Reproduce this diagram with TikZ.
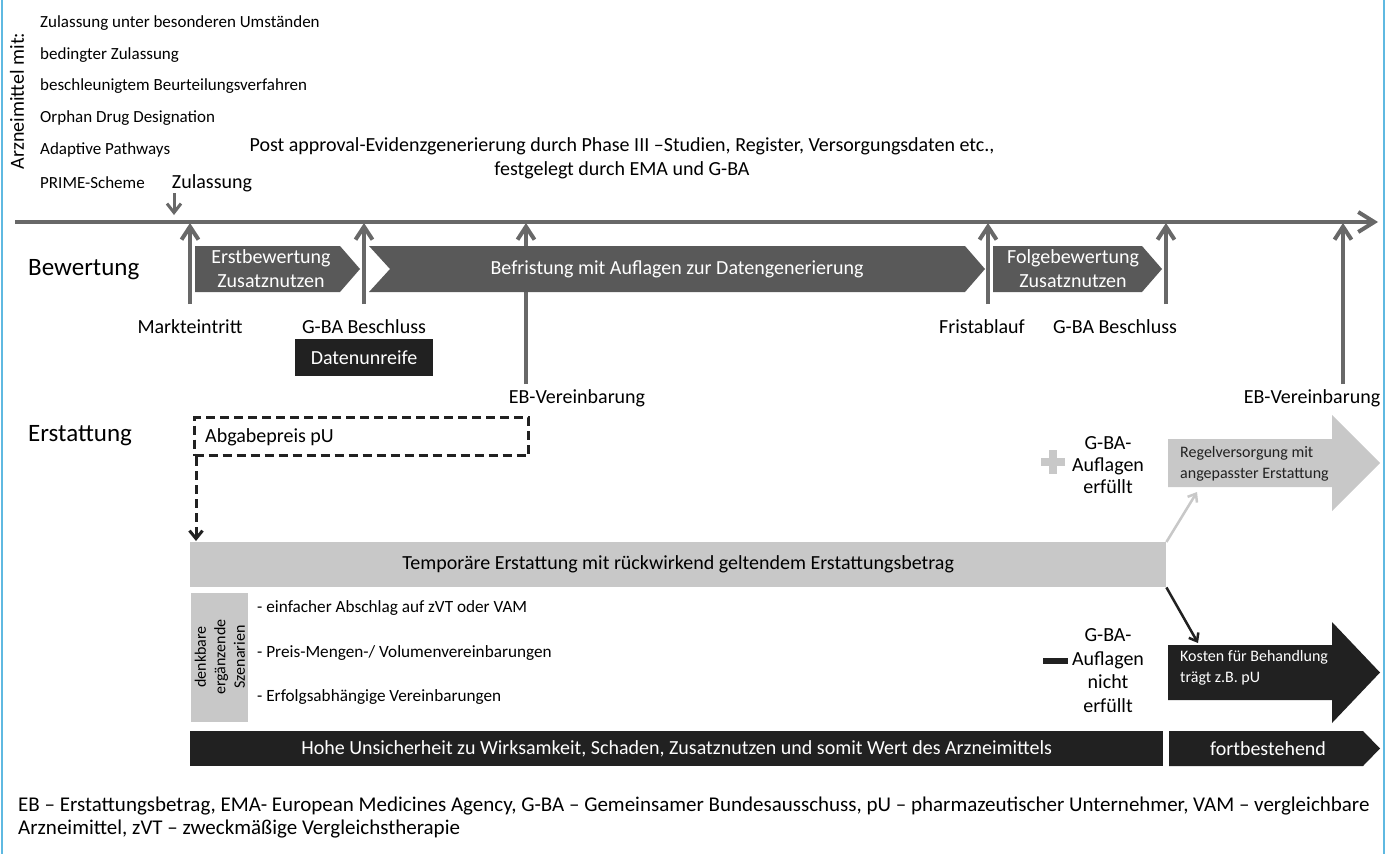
\documentclass[tikz,border=0pt]{standalone}
\usepackage{fontspec}
\setmainfont{Carlito}
\usetikzlibrary{arrows.meta}
\definecolor{tlgray}{RGB}{104,104,104}
\definecolor{chev}{RGB}{89,89,89}
\definecolor{dark}{RGB}{33,33,33}
\definecolor{light}{RGB}{200,200,200}
\definecolor{frameblue}{RGB}{95,185,225}
\newcommand{\fsz}[2]{\fontsize{#1}{#2}\selectfont}
\tikzset{
  lbl/.style={inner sep=0pt, font=\fsz{20}{24}},
  lst/.style={inner sep=0pt, anchor=west, font=\fsz{17}{20}},
  small/.style={inner sep=0pt, anchor=west, font=\fsz{16}{21}, align=left},
  big/.style={inner sep=0pt, anchor=west, font=\fsz{25}{30}},
  wtxt/.style={lbl, text=white, align=center},
  tl/.style={draw=tlgray, line width=4pt},
  uparrow/.style={tl, -{Straight Barb[length=13pt,width=17pt]}},
  tlarrow/.style={tl, -{Straight Barb[length=16pt,width=20pt]}},
}
\begin{document}
\begin{tikzpicture}[x=1pt,y=-1pt]
\useasboundingbox (0,0) rectangle (1386,854);
\fill[white] (0,0) rectangle (1386,854);
\draw[frameblue, line width=2.5pt] (2,0) -- (2,854) (1384,0) -- (1384,854);

% left list
\node[lbl, rotate=90] (arz) at (17,101) {Arzneimittel mit:};
\node[lst] (l1) at (40,23) {Zulassung unter besonderen Umständen};
\node[lst] (l2) at (40,55) {bedingter Zulassung};
\node[lst] (l3) at (40,86) {beschleunigtem Beurteilungsverfahren};
\node[lst] (l4) at (40,118) {Orphan Drug Designation};
\node[lst] (l5) at (40,150) {Adaptive Pathways};
\node[lst] (l6) at (40,183) {PRIME-Scheme};

\node[lbl] (zul) at (212,183) {Zulassung};
\coordinate (zulA) at (174,193);
\coordinate (zulB) at (174,215);
\draw[draw=tlgray, line width=3pt, -{Straight Barb[length=9pt,width=14pt]}] (zulA) -- (zulB);

\node[lbl, align=center] (post) at (622,158) {Post approval-Evidenzgenerierung durch Phase III –Studien, Register, Versorgungsdaten etc.,\\festgelegt durch EMA und G-BA};

% timeline
\coordinate (t0) at (15,222);
\coordinate (t1) at (1378,222);
\draw[tlarrow] (t0) -- (t1);

\node[big] (bew) at (28,270) {Bewertung};
\node[big] (erst) at (28,436) {Erstattung};

% vertical arrows and labels
\node[lbl] (markt) at (190,327) {Markteintritt};
\coordinate (a1s) at (190,304); \coordinate (a1e) at (190,223);
\draw[uparrow] (a1s) -- (a1e);
\node[lbl] (gba1) at (364,327) {G-BA Beschluss};
\coordinate (a2s) at (364,304); \coordinate (a2e) at (364,223);
\draw[uparrow] (a2s) -- (a2e);
\node[fill=dark, text=white, font=\fsz{20}{24}, minimum width=138pt, minimum height=37pt, inner sep=0pt] (daten) at (364,357.5) {Datenunreife};
\node[lbl] (eb1) at (577,398) {EB-Vereinbarung};
\coordinate (a3s) at (526,384); \coordinate (a3e) at (526,223);
\draw[uparrow] (a3s) -- (a3e);
\node[lbl] (frist) at (982,327) {Fristablauf};
\coordinate (a4s) at (988,304); \coordinate (a4e) at (988,223);
\draw[uparrow] (a4s) -- (a4e);
\node[lbl] (gba2) at (1115,327) {G-BA Beschluss};
\coordinate (a5s) at (1166,304); \coordinate (a5e) at (1166,223);
\draw[uparrow] (a5s) -- (a5e);
\node[lbl] (eb2) at (1312,398) {EB-Vereinbarung};
\coordinate (a6s) at (1343,384); \coordinate (a6e) at (1343,223);
\draw[uparrow] (a6s) -- (a6e);

% chevrons (on top of the arrows)
\fill[chev] (195,246) -- (340,246) -- (360,269) -- (340,292) -- (195,292) -- cycle;
\node[wtxt] (erstb) at (271,269) {Erstbewertung\\Zusatznutzen};
\fill[chev] (369,246) -- (965,246) -- (985,269) -- (965,292) -- (369,292) -- (390,269) -- cycle;
\node[wtxt] (befr) at (677,269) {Befristung mit Auflagen zur Datengenerierung};
\fill[chev] (993,246) -- (1142,246) -- (1162,269) -- (1142,292) -- (993,292) -- cycle;
\node[wtxt] (folge) at (1073,269) {Folgebewertung\\Zusatznutzen};

% Abgabepreis
\node[draw=dark, line width=3pt, dash pattern=on 9pt off 5pt, minimum width=334pt, minimum height=38pt, inner sep=0pt, anchor=north west] (abgbox) at (193,416) {};
\node[lbl, anchor=west] (abg) at (205,437) {Abgabepreis pU};

% temporaere Erstattung
\node[fill=light, minimum width=976pt, minimum height=45pt, inner sep=0pt, anchor=north west, font=\fsz{20}{24}] (temp) at (190,542) {Temporäre Erstattung mit rückwirkend geltendem Erstattungsbetrag};
\coordinate (dashEnd) at (196,541);
\draw[draw=dark, line width=3pt, dash pattern=on 9pt off 5pt, -{Straight Barb[length=8pt,width=13pt]}] (abgbox.south west -| dashEnd) -- (dashEnd);

% szenarien
\node[fill=light, minimum width=57pt, minimum height=129pt, inner sep=0pt] (szbox) at (219.5,657.5) {};
\node[rotate=90, align=center, inner sep=0pt, font=\fsz{16}{19.5}] (sztxt) at (220,657) {denkbare\\ergänzende\\Szenarien};
\node[lst, font=\fsz{17.2}{20}] (b1) at (257,608) {- einfacher Abschlag auf zVT oder VAM};
\node[lst, font=\fsz{17.2}{20}] (b2) at (257,653) {- Preis-Mengen-/ Volumenvereinbarungen};
\node[lst, font=\fsz{17.2}{20}] (b3) at (257,697) {- Erfolgsabhängige Vereinbarungen};

% right: positive branch
\fill[light] (1049,450) rectangle (1057,474);
\fill[light] (1041,458) rectangle (1065,466);
\node[lbl, align=center, font=\fsz{20}{22}] (gbaplus) at (1108,465) {G-BA-\\Auflagen\\erfüllt};
\fill[light] (1168,439) -- (1332,439) -- (1332,415) -- (1380,463) -- (1332,511) -- (1332,487) -- (1168,487) -- cycle;
\node[small, text=dark] (regel) at (1180,464) {Regelversorgung mit\\angepasster Erstattung};
\coordinate (regS) at (1197,492);
\draw[draw=light, line width=2.5pt, -{Straight Barb[length=7pt,width=11pt]}] (temp.north east) -- (regS);

% right: negative branch
\fill[dark] (1043,658) rectangle (1068,664);
\node[lbl, align=center, font=\fsz{20}{23.5}] (gbaminus) at (1108,670.5) {G-BA-\\Auflagen\\nicht\\erfüllt};
\fill[dark] (1168,645) -- (1332,645) -- (1332,622) -- (1380,672.5) -- (1332,723) -- (1332,700) -- (1168,700) -- cycle;
\node[small, text=white] (kosten) at (1180,667.5) {Kosten für Behandlung\\trägt z.B. pU};
\coordinate (kosN) at (1198,643);
\draw[draw=dark, line width=2.5pt, -{Straight Barb[length=7pt,width=11pt]}] (temp.south east) -- (kosN);

% bottom bar
\node[fill=dark, text=white, minimum width=973pt, minimum height=35pt, inner sep=0pt, anchor=north west, font=\fsz{20}{24}] (hohe) at (190,731) {Hohe Unsicherheit zu Wirksamkeit, Schaden, Zusatznutzen und somit Wert des Arzneimittels};
\fill[dark] (1169,731) -- (1363,731) -- (1380,748.5) -- (1363,766) -- (1169,766) -- cycle;
\node[wtxt] (fort) at (1268,748.5) {fortbestehend};

% footnote
\node[lst, font=\fsz{21}{23}] (fn1) at (18,806) {EB – Erstattungsbetrag, EMA- European Medicines Agency, G-BA – Gemeinsamer Bundesausschuss, pU – pharmazeutischer Unternehmer, VAM – vergleichbare};
\node[lst, font=\fsz{21}{23}] (fn2) at (18,829) {Arzneimittel, zVT – zweckmäßige Vergleichstherapie};
\end{tikzpicture}
\end{document}
